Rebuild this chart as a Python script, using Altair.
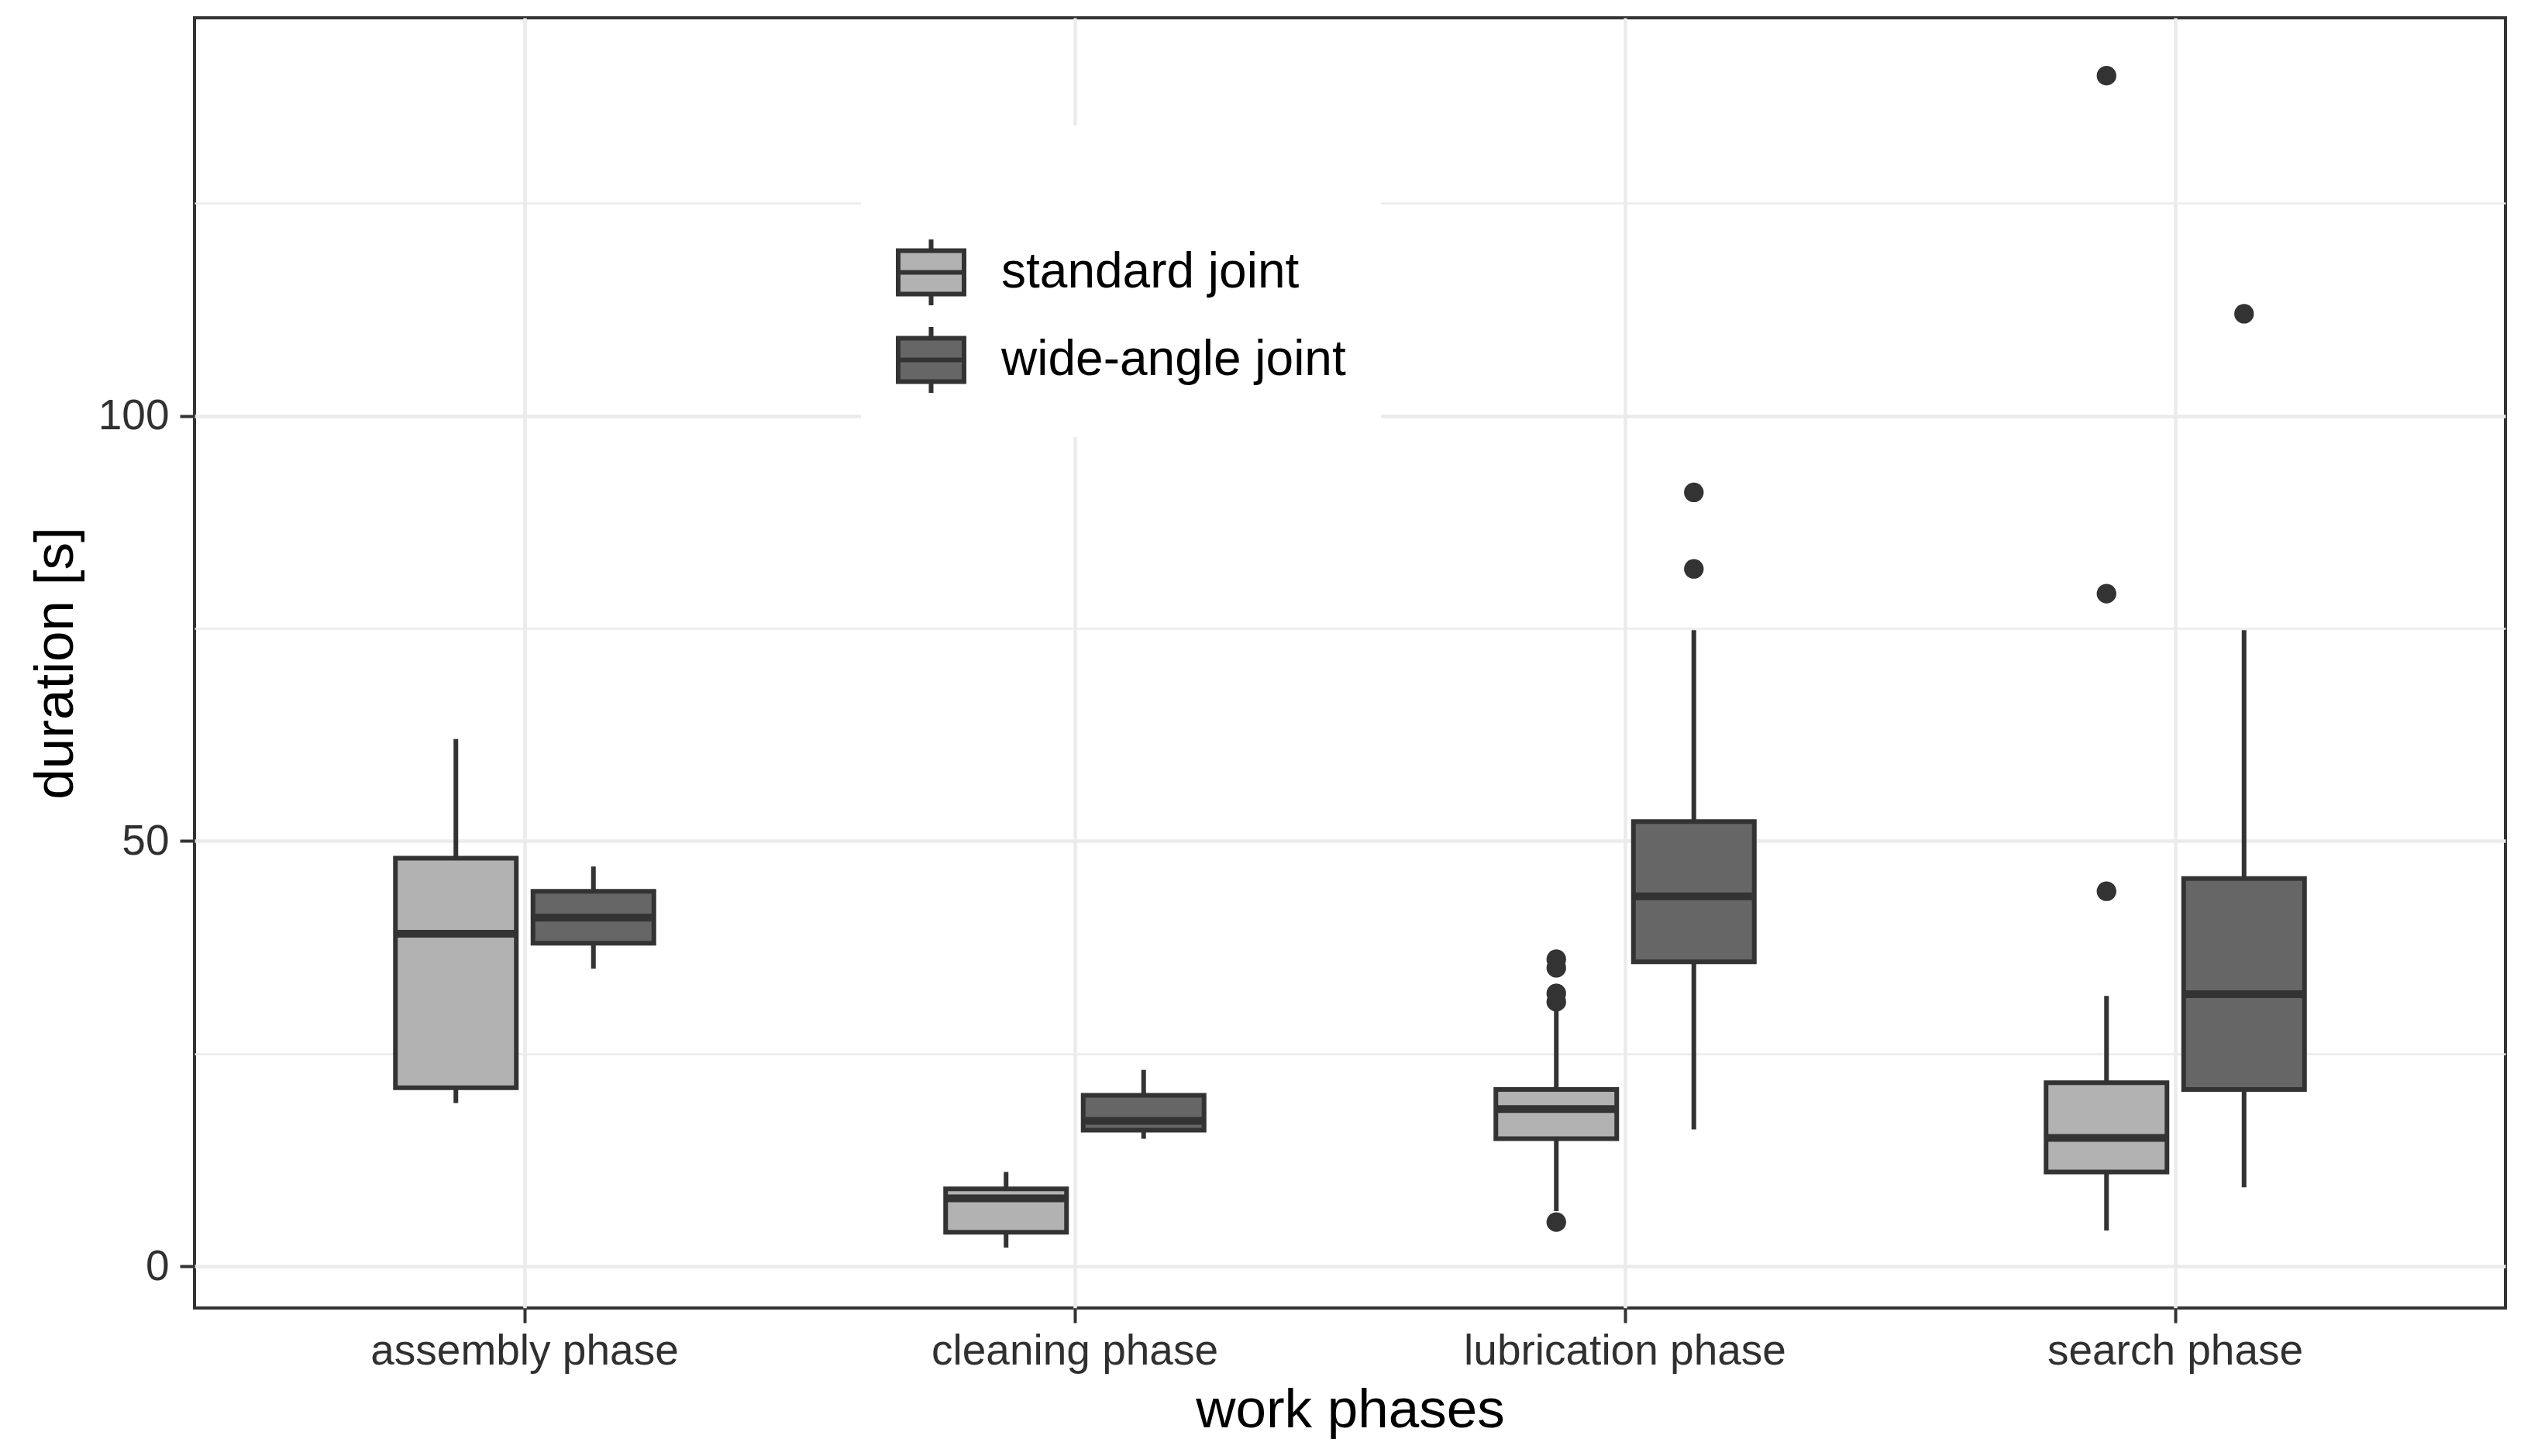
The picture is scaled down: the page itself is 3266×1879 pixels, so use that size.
import altair as alt
import pandas as pd

categories = ["assembly phase", "cleaning phase", "lubrication phase", "search phase"]
groups = ["standard joint", "wide-angle joint"]

# box statistics (seconds)
std_low = [19.2, 2.2, 6.5, 4.2]
std_q1 = [21.0, 4.0, 15.0, 11.1]
std_med = [39.1, 8.0, 18.5, 15.1]
std_q3 = [48.0, 9.1, 20.8, 21.6]
std_high = [62.0, 11.1, 30.0, 31.8]

wide_low = [35.0, 15.0, 16.1, 9.3]
wide_q1 = [38.0, 16.0, 35.8, 20.8]
wide_med = [41.0, 17.1, 43.5, 32.0]
wide_q3 = [44.1, 20.1, 52.3, 45.6]
wide_high = [47.0, 23.1, 74.8, 74.8]

# outliers
out_phase = ["lubrication phase"] * 5 + ["lubrication phase"] * 2 + ["search phase"] * 3 + ["search phase"]
out_group = ["standard joint"] * 5 + ["wide-angle joint"] * 2 + ["standard joint"] * 3 + ["wide-angle joint"]
out_value = [5.2, 31.1, 32.1, 35.1, 36.1, 82.0, 91.0, 44.1, 79.1, 140.0, 112.0]

y_ticks = [0, 50, 100]
y_minor = [25, 75, 125]

rows = []
for i, c in enumerate(categories):
    rows.append(dict(phase=c, group=groups[0], low=std_low[i], q1=std_q1[i],
                     med=std_med[i], q3=std_q3[i], high=std_high[i]))
    rows.append(dict(phase=c, group=groups[1], low=wide_low[i], q1=wide_q1[i],
                     med=wide_med[i], q3=wide_q3[i], high=wide_high[i]))
stats = pd.DataFrame(rows)
outs = pd.DataFrame(dict(phase=out_phase, group=out_group, value=out_value))

dark = "#333333"
grid_col = "#ebebeb"
yscale = alt.Scale(domain=[-4.9, 146.8], nice=False, zero=False)

x_enc = alt.X(
    "phase:N",
    sort=categories,
    scale=alt.Scale(paddingInner=0, paddingOuter=0.1),
    axis=alt.Axis(
        title="work phases", labelAngle=0, grid=True, gridColor=grid_col, gridWidth=4.5,
        bandPosition=0.5, domain=False, tickSize=19, tickWidth=4, tickColor=dark,
        labelFontSize=55, labelColor="#303030", labelPadding=10, labelLimit=0,
        titleFontSize=71, titleFontWeight="normal", titleColor="#000000", titlePadding=14,
    ),
)
xo_enc = alt.XOffset("group:N", sort=groups,
                     scale=alt.Scale(paddingInner=0, paddingOuter=1))

whisk = alt.Chart(stats).mark_rule(color=dark, strokeWidth=6).encode(
    x=x_enc, xOffset=xo_enc,
    y=alt.Y("low:Q", scale=yscale,
            axis=alt.Axis(values=y_minor, labels=False, ticks=False, domain=False,
                          title=None, grid=True, gridColor=grid_col, gridWidth=2.5,
                          orient="left")),
    y2="high:Q",
)

box = alt.Chart(stats).mark_bar(size=156, stroke=dark, strokeWidth=6).encode(
    x=x_enc, xOffset=xo_enc,
    y=alt.Y("q1:Q", scale=yscale,
            axis=alt.Axis(values=y_ticks, title="duration [s]", grid=True,
                          gridColor=grid_col, gridWidth=4.5, domain=False,
                          tickSize=19, tickWidth=4, tickColor=dark,
                          labelFontSize=55, labelColor="#303030", labelPadding=14,
                          titleFontSize=71, titleFontWeight="normal",
                          titleColor="#000000", titlePadding=18, orient="left")),
    y2="q3:Q",
    fill=alt.Fill("group:N", sort=groups,
                  scale=alt.Scale(domain=groups, range=["#b2b2b2", "#666666"]),
                  legend=alt.Legend(
                      title=" ", titleFontSize=62, titlePadding=37,
                      orient="none", legendX=860, legendY=139,
                      fillColor="#ffffff", padding=45,
                      symbolType="M0,-1V-0.66M-1,-0.66H1V0.66H-1ZM-1,0H1M0,0.66V1",
                      symbolSize=7225, symbolStrokeColor=dark, symbolStrokeWidth=6,
                      symbolOpacity=1,
                      labelFontSize=64, labelColor="#000000", labelOffset=45,
                      labelLimit=0, rowPadding=4,
                  )),
)

med = alt.Chart(stats).mark_tick(size=156, thickness=10, color=dark, opacity=1).encode(
    x=x_enc, xOffset=xo_enc,
    y=alt.Y("med:Q", scale=yscale, axis=None),
)

pts = alt.Chart(outs).mark_circle(size=640, color=dark, opacity=1).encode(
    x=x_enc, xOffset=xo_enc,
    y=alt.Y("value:Q", scale=yscale, axis=None),
)

chart = (
    alt.layer(whisk, box, med, pts)
    .resolve_scale(y="shared")
    .resolve_axis(y="independent")
    .properties(
        width=2982, height=1665,
        autosize=alt.AutoSizeParams(type="none"),
        padding={"left": 243, "top": 15, "right": 25, "bottom": 175},
    )
    .configure(font="Liberation Sans")
    .configure_view(stroke=dark, strokeWidth=4)
)

chart.save("out.html", embed_options={"renderer": "svg", "actions": False})
